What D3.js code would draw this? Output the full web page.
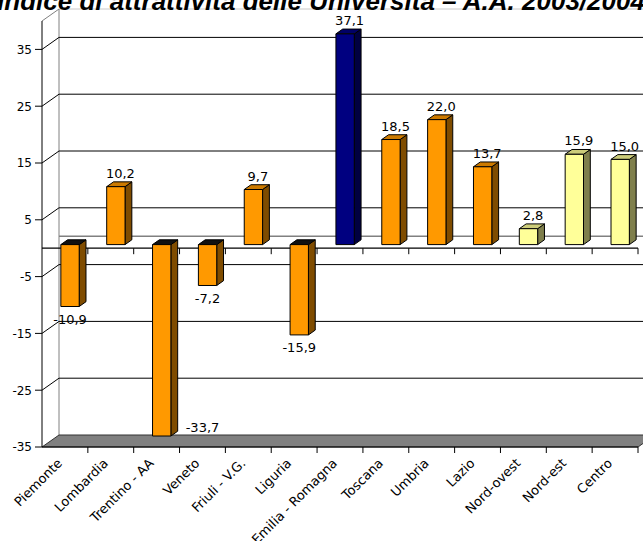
<!DOCTYPE html>
<html>
<head>
<meta charset="utf-8">
<script src="https://cdn.jsdelivr.net/npm/d3@7/dist/d3.min.js"></script>
<style>
  html, body { margin: 0; padding: 0; background: #fff; }
  svg { display: block; }
</style>
</head>
<body>
<svg id="chart" width="643" height="541"></svg>
<script>
// ---------- DATA ----------
const categories = ["Piemonte", "Lombardia", "Trentino - AA", "Veneto", "Friuli - V.G.", "Liguria",
  "Emilia - Romagna", "Toscana", "Umbria", "Lazio", "Nord-ovest", "Nord-est", "Centro"];
const values = [-10.9, 10.2, -33.7, -7.2, 9.7, -15.9, 37.1, 18.5, 22.0, 13.7, 2.8, 15.9, 15.0];
const groups = ["region", "region", "region", "region", "region", "region",
  "highlight", "region", "region", "region", "area", "area", "area"];
const yTicks = [-35, -25, -15, -5, 5, 15, 25, 35];
const yTickLabels = ["-35", "-25", "-15", "-5", "5", "15", "25", "35"];
const title = "Indice di attrattività delle Università – A.A. 2003/2004";

// ---------- STYLE ----------
const palette = {
  region:    { front: "#FF9900", top: "#CC7A00", side: "#7F4C00" },
  highlight: { front: "#000080", top: "#000066", side: "#000040" },
  area:      { front: "#FFFF99", top: "#CCCC7A", side: "#7F7F4C" }
};
const W = 643, H = 541;
const plotLeft = 42, plotRight = 638;
const DX = 17, DY = -12;           // full depth of the 3D box
const wallTopValue = 40;
const font = "'DejaVu Sans', Verdana, sans-serif";

const svg = d3.select("#chart");

const x = d3.scaleBand().domain(categories).range([plotLeft, plotRight]).paddingInner(0).paddingOuter(0);
const y = d3.scaleLinear().domain([-35, 35]).range([447, 49.4]);
const bw = x.bandwidth();

const gWall = svg.append("g");
gWall.append("line")
  .attr("x1", plotLeft + DX).attr("x2", W + 5)
  .attr("y1", y(wallTopValue) + DY).attr("y2", y(wallTopValue) + DY)
  .attr("stroke", "#c8c8c8").attr("stroke-width", 1);
gWall.append("line")
  .attr("x1", plotLeft).attr("y1", y(wallTopValue))
  .attr("x2", plotLeft + DX).attr("y2", y(wallTopValue) + DY)
  .attr("stroke", "#808080").attr("stroke-width", 1);
gWall.append("line")
  .attr("x1", plotLeft + DX).attr("x2", plotLeft + DX)
  .attr("y1", y(wallTopValue) + DY).attr("y2", y(-35) + DY)
  .attr("stroke", "#808080").attr("stroke-width", 1);

// gridlines
const grid = svg.append("g");
yTicks.filter(t => t !== -35).forEach(t => {
  grid.append("line")
    .attr("x1", plotLeft).attr("y1", y(t))
    .attr("x2", plotLeft + DX).attr("y2", y(t) + DY)
    .attr("stroke", "#000").attr("stroke-width", 1);
  grid.append("line")
    .attr("x1", plotLeft + DX).attr("y1", y(t) + DY)
    .attr("x2", W + 5).attr("y2", y(t) + DY)
    .attr("stroke", "#000").attr("stroke-width", 1);
});
grid.append("line")
  .attr("x1", plotLeft + DX).attr("y1", y(0) + DY)
  .attr("x2", W + 5).attr("y2", y(0) + DY)
  .attr("stroke", "#808080").attr("stroke-width", 1.5);

// floor
const yF = y(-35);
svg.append("path")
  .attr("d", `M${plotLeft},${yF} L${plotRight},${yF} L${plotRight + DX},${yF + DY} L${plotLeft + DX},${yF + DY} Z`)
  .attr("fill", "#808080").attr("stroke", "#333").attr("stroke-width", 1);

// value axis
const axisG = svg.append("g");
axisG.append("line")
  .attr("x1", plotLeft).attr("x2", plotLeft)
  .attr("y1", y(wallTopValue)).attr("y2", y(-35))
  .attr("stroke", "#000").attr("stroke-width", 1);
yTicks.forEach((t, i) => {
  axisG.append("line")
    .attr("x1", plotLeft - 7).attr("x2", plotLeft)
    .attr("y1", y(t)).attr("y2", y(t))
    .attr("stroke", "#000");
  axisG.append("text")
    .attr("x", plotLeft - 10).attr("y", y(t)).attr("dy", "0.36em")
    .attr("text-anchor", "end")
    .attr("font-family", font).attr("font-size", 12).attr("fill", "#000")
    .text(yTickLabels[i]);
});

// category axes
[y(-35), y(0)].forEach(yy => {
  axisG.append("line")
    .attr("x1", plotLeft).attr("x2", plotRight)
    .attr("y1", yy).attr("y2", yy)
    .attr("stroke", "#000").attr("stroke-width", 1.2);
  categories.forEach(c => {
    const xt = x(c) + bw;
    axisG.append("line")
      .attr("x1", xt).attr("x2", xt)
      .attr("y1", yy).attr("y2", yy + 6)
      .attr("stroke", "#000");
  });
});

// bars
const f0 = 0.3, f1 = 0.7;
const bdx = (f1 - f0) * DX, bdy = (f1 - f0) * DY;
const barsG = svg.append("g");
categories.forEach((c, i) => {
  const v = values[i];
  const col = palette[groups[i]];
  const xL = x(c) + bw * 0.3 + f0 * DX;
  const xR = xL + bw * 0.4;
  const yZ = y(0) + f0 * DY;
  const yV = y(v) + f0 * DY;
  const yTopFace = Math.min(yZ, yV);
  const yBot = Math.max(yZ, yV);
  const g = barsG.append("g").attr("stroke", "#000").attr("stroke-width", 1).attr("stroke-linejoin", "round");
  g.append("path")
    .attr("d", `M${xR},${yTopFace} L${xR + bdx},${yTopFace + bdy} L${xR + bdx},${yBot + bdy} L${xR},${yBot} Z`)
    .attr("fill", col.side);
  g.append("path")
    .attr("d", `M${xL},${yTopFace} L${xR},${yTopFace} L${xR + bdx},${yTopFace + bdy} L${xL + bdx},${yTopFace + bdy} Z`)
    .attr("fill", v >= 0 ? col.top : "#111");
  g.append("rect")
    .attr("x", xL).attr("y", yTopFace)
    .attr("width", xR - xL).attr("height", yBot - yTopFace)
    .attr("fill", col.front);
});

// value labels
const fmt = v => d3.format(".1f")(v).replace("−", "-").replace(".", ",");
const labG = svg.append("g").attr("font-family", font).attr("font-size", 13).attr("fill", "#000");
categories.forEach((c, i) => {
  const v = values[i];
  const xL = x(c) + bw * 0.3 + f0 * DX;
  const xR = xL + bw * 0.4;
  const xc = (xL + xR) / 2;
  const yV = y(v) + f0 * DY;
  if (v >= 0) {
    labG.append("text")
      .attr("x", xc + 4.5).attr("y", yV + bdy - 4)
      .attr("text-anchor", "middle").text(fmt(v));
  } else {
    const by = yV + 17.5;
    if (by > y(-35) + DY) {
      labG.append("text")
        .attr("x", xR + bdx + 8).attr("y", yV - 4.5)
        .attr("text-anchor", "start").text(fmt(v));
    } else {
      labG.append("text")
        .attr("x", xc).attr("y", by)
        .attr("text-anchor", "middle").text(fmt(v));
    }
  }
});

// category labels
const catG = svg.append("g").attr("font-family", font).attr("font-size", 13).attr("fill", "#000");
categories.forEach(c => {
  const cx = x(c) + bw / 2;
  catG.append("text")
    .attr("transform", `translate(${cx - 2},${464}) rotate(-45)`)
    .attr("text-anchor", "end")
    .text(c);
});

// title
svg.append("text")
  .attr("x", 321).attr("y", 10)
  .attr("text-anchor", "middle")
  .attr("font-family", "'Liberation Sans', Arial, sans-serif")
  .attr("font-weight", "bold").attr("font-style", "italic")
  .attr("font-size", 26).attr("fill", "#000")
  .text(title);
</script>
</body>
</html>
